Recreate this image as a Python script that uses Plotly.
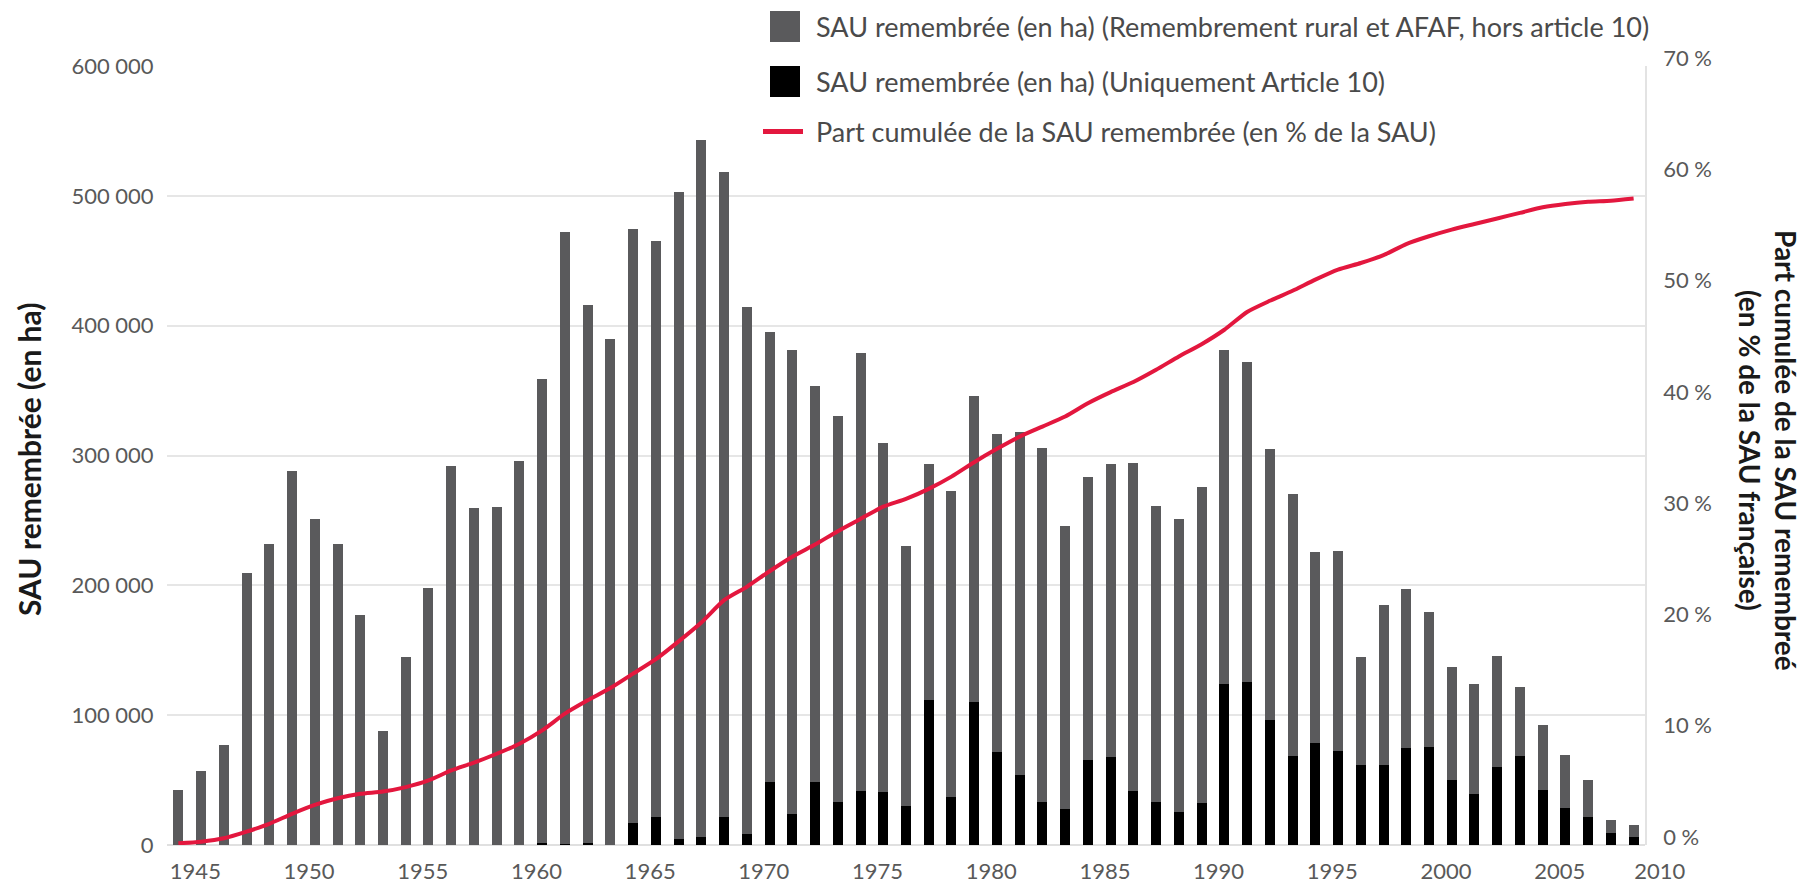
import plotly.graph_objects as go

# ---------------- data ----------------
years = list(range(1945, 2010))

# SAU remembrée (ha) - Uniquement Article 10
article10 = [0, 0, 0, 0, 0, 0, 0, 0, 0, 0,
             0, 0, 0, 0, 0, 0, 1500, 1000, 1500, 0,
             16600, 21500, 4500, 6500, 21500, 8200, 48400, 24100, 48400, 32900,
             41800, 40700, 29900, 112000, 36800, 110000, 71500, 54100, 32900, 28000,
             65700, 67600, 41800, 32900, 25300, 32700, 123700, 125500, 96000, 68900,
             78300, 72700, 62000, 61300, 74500, 75800, 49800, 39000, 60000, 68900,
             42600, 28800, 21700, 8900, 5900]

# SAU remembrée (ha) - Remembrement rural et AFAF, hors article 10
hors_article10 = [42100, 56700, 77300, 209800, 232200, 288400, 251400, 232200, 177400, 87500,
                  144700, 198300, 291700, 259600, 260300, 296100, 357100, 471200, 414500, 389700,
                  458100, 443800, 498300, 536600, 496600, 406200, 346600, 357500, 305100, 297500,
                  337200, 268900, 200300, 181800, 235800, 235800, 244700, 263900, 272500, 218000,
                  217700, 226200, 252400, 228500, 226100, 242900, 257900, 246500, 209200, 201700,
                  147600, 153900, 82700, 123700, 122800, 103400, 87200, 84800, 85500, 52800,
                  49800, 40900, 28100, 10200, 9400]

# Part cumulée de la SAU remembrée (% de la SAU)
part_cumulee = [0.15, 0.3, 0.6, 1.2, 1.9, 2.8, 3.6, 4.2, 4.6, 4.8,
                5.2, 5.8, 6.7, 7.4, 8.2, 9.1, 10.3, 11.8, 13.0, 14.1,
                15.4, 16.7, 18.3, 20.0, 22.0, 23.2, 24.6, 25.9, 27.0, 28.2,
                29.3, 30.4, 31.1, 32.0, 33.1, 34.4, 35.6, 36.7, 37.6, 38.5,
                39.7, 40.7, 41.6, 42.7, 43.9, 45.0, 46.3, 47.9, 48.9, 49.8,
                50.8, 51.7, 52.3, 53.0, 54.0, 54.7, 55.3, 55.8, 56.3, 56.8,
                57.3, 57.6, 57.8, 57.9, 58.1]

x_tick_labels = ["1945", "1950", "1955", "1960", "1965", "1970", "1975",
                 "1980", "1985", "1990", "1995", "2000", "2005", "2010"]

legend_labels = [
    "SAU remembrée (en ha) (Remembrement rural et AFAF, hors article 10)",
    "SAU remembrée (en ha) (Uniquement Article 10)",
    "Part cumulée de la SAU remembrée (en % de la SAU)",
]
left_title = "SAU remembrée (en ha)"
right_title = "Part cumulée de la SAU remembreé<br>(en % de la SAU française)"

# ---------------- style ----------------
OFF = 8                      # page body margin of the html page
W, H = 1810 - OFF, 889 - OFF
PLOT_L, PLOT_R, PLOT_T, PLOT_B = 167, 1645, 66, 845   # target pixels in the screenshot
L, T = PLOT_L - OFF, PLOT_T - OFF
R, B = W - (PLOT_R - OFF), H - (PLOT_B - OFF)
PW, PH = W - L - R, H - T - B
GRAY = "#5a5a5c"
BLACK = "#000000"
RED = "#e3173e"
FONT = "Lato"
TXT = "#595959"


def px_x(px):
    return (px - PLOT_L) / PW


def px_y(py):
    return (PLOT_B - py) / PH


fig = go.Figure()
fig.add_trace(go.Bar(x=years, y=article10, name=legend_labels[1],
                     marker=dict(color=BLACK, line=dict(width=0)), showlegend=False))
fig.add_trace(go.Bar(x=years, y=hors_article10, name=legend_labels[0],
                     marker=dict(color=GRAY, line=dict(width=0)), showlegend=False))
fig.add_trace(go.Scatter(x=years, y=part_cumulee, name=legend_labels[2], yaxis="y2",
                         mode="lines", line=dict(color=RED, width=4, shape="spline", smoothing=0.6),
                         showlegend=False))

last_year = years[-1]
tickvals = [min(int(t), last_year + 0.4) for t in x_tick_labels]

fig.update_layout(
    width=W, height=H,
    margin=dict(l=L, r=R, t=T, b=B, autoexpand=False),
    paper_bgcolor="white", plot_bgcolor="white",
    barmode="stack", bargap=0.56,
    separators=", ",
    font=dict(family=FONT, size=22, color=TXT),
    xaxis=dict(range=[years[0] - 0.5, last_year + 0.5], tickvals=tickvals, ticktext=x_tick_labels,
               showgrid=False, zeroline=False, showline=False, automargin=False,
               ticks="outside", ticklen=7, tickcolor="rgba(0,0,0,0)",
               ticklabelshift=17, tickfont=dict(size=22, color=TXT)),
    yaxis=dict(range=[0, 600000], dtick=100000, tickformat=",.0f", automargin=False,
               showgrid=True, gridcolor="#e6e6e6", gridwidth=1.5,
               zeroline=True, zerolinecolor="#e0e0e0", zerolinewidth=1.5,
               showline=False, ticks="outside", ticklen=8, tickcolor="rgba(0,0,0,0)",
               tickfont=dict(size=22, color=TXT)),
    yaxis2=dict(range=[0, 70], dtick=10, ticksuffix=" %", overlaying="y", side="right",
                automargin=False,
                showgrid=False, zeroline=False, showline=True, linecolor="#e3e3e3", linewidth=1.5,
                ticks="outside", ticklen=12, tickcolor="rgba(0,0,0,0)",
                ticklabelshift=-8, tickfont=dict(size=22, color=TXT)),
)

# axis titles
fig.add_annotation(text="<b>" + left_title + "</b>", xref="paper", yref="paper",
                   x=px_x(29), y=px_y(460), textangle=-90, showarrow=False,
                   xanchor="center", yanchor="middle",
                   font=dict(family=FONT, size=30, color="#1a1a1a"))
fig.add_annotation(text="<b>" + right_title + "</b>", xref="paper", yref="paper",
                   x=px_x(1768), y=px_y(450), textangle=90, showarrow=False,
                   xanchor="center", yanchor="middle", align="center",
                   font=dict(family=FONT, size=28, color="#1a1a1a"))

# manual legend
rows_y = [26.5, 81.5, 131.5]
fig.add_shape(type="rect", xref="paper", yref="paper",
              x0=px_x(770), x1=px_x(800), y0=px_y(42), y1=px_y(11),
              fillcolor=GRAY, line=dict(width=0))
fig.add_shape(type="rect", xref="paper", yref="paper",
              x0=px_x(770), x1=px_x(800), y0=px_y(97), y1=px_y(66),
              fillcolor=BLACK, line=dict(width=0))
fig.add_shape(type="line", xref="paper", yref="paper",
              x0=px_x(763), x1=px_x(803), y0=px_y(rows_y[2]), y1=px_y(rows_y[2]),
              line=dict(color=RED, width=5))
for lab, ry in zip(legend_labels, rows_y):
    fig.add_annotation(text=lab, xref="paper", yref="paper", x=px_x(814), y=px_y(ry),
                       xanchor="left", yanchor="middle", showarrow=False,
                       font=dict(family=FONT, size=27, color="#4a4a4a"))

fig.write_html("out.html")
